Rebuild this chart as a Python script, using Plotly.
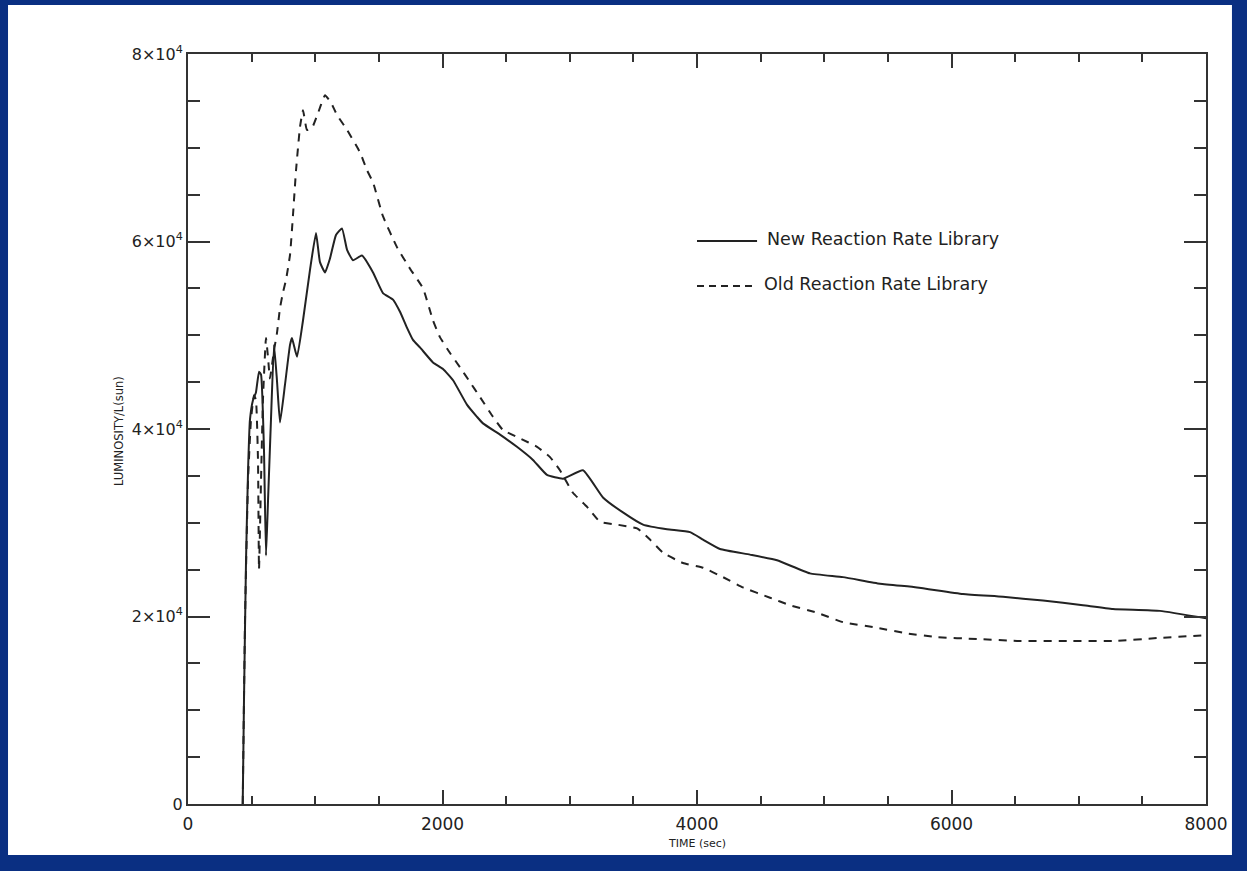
import plotly.graph_objects as go

# ---- data (time in s, luminosity in L_sun) ----
new_time = [430, 440, 456, 472, 487, 511, 534, 558, 574, 597, 613, 629, 652, 676, 699, 723,
            762, 802, 817, 857, 904, 959, 1006, 1037, 1077, 1116, 1163, 1210, 1250, 1297, 1367,
            1454, 1532, 1611, 1666, 1721, 1768, 1823, 1925, 2004, 2083, 2192, 2271, 2318, 2452,
            2585, 2711, 2821, 2947, 3104, 3261, 3418, 3576, 3764, 3945, 4047, 4181, 4416, 4629,
            4888, 5147, 5438, 5729, 6090, 6405, 6719, 7033, 7269, 7638, 8000]
new_lum = [0, 11100, 26000, 35600, 41000, 43100, 43900, 46100, 45800, 37800, 26500, 32400,
           41000, 49000, 45200, 40700, 44700, 49000, 49700, 47700, 51600, 57000, 60900, 57800,
           56700, 58200, 60700, 61400, 59100, 58000, 58500, 56700, 54500, 53800, 52500, 50800,
           49500, 48700, 47100, 46400, 45200, 42600, 41300, 40600, 39400, 38100, 36700, 35100,
           34700, 35600, 32700, 31100, 29800, 29300, 29000, 28200, 27200, 26600, 26000, 24600,
           24200, 23500, 23100, 22400, 22100, 21700, 21200, 20800, 20600, 19800]

old_time = [430, 448, 472, 495, 519, 534, 550, 558, 574, 589, 613, 629, 644, 676, 699, 723,
            747, 770, 802, 825, 849, 880, 904, 935, 974, 1022, 1077, 1124, 1171, 1250, 1352,
            1407, 1454, 1532, 1642, 1745, 1847, 1925, 1980, 2059, 2137, 2216, 2295, 2397, 2475,
            2609, 2743, 2845, 2923, 3025, 3136, 3238, 3371, 3529, 3631, 3733, 3890, 4047, 4204,
            4361, 4574, 4731, 4943, 5147, 5415, 5650, 5886, 6200, 6515, 6908, 7301, 7615, 8000]
old_lum = [0, 19600, 34600, 41000, 43600, 43100, 36700, 25000, 34600, 43100, 49700, 47600,
           45400, 48400, 50200, 52900, 54600, 55900, 58600, 62800, 67600, 72200, 74000, 71900,
           72100, 73700, 75600, 74800, 73500, 71900, 69500, 67600, 66300, 62700, 59400, 57100,
           55000, 51600, 49800, 48100, 46600, 45000, 43400, 41300, 39900, 39000, 38100, 37000,
           35600, 33200, 31700, 30100, 29800, 29400, 28200, 26800, 25700, 25200, 24200, 23100,
           22000, 21200, 20400, 19400, 18800, 18200, 17800, 17600, 17400, 17400, 17400, 17700,
           18000]

x_tickvals = [0, 2000, 4000, 6000, 8000]
x_ticktext = ["0", "2000", "4000", "6000", "8000"]
y_tickvals = [0, 20000, 40000, 60000, 80000]
y_ticktext = ["0", "2×10<sup>4</sup>", "4×10<sup>4</sup>", "6×10<sup>4</sup>", "8×10<sup>4</sup>"]

series_names = ["New Reaction Rate Library", "Old Reaction Rate Library"]

INK = "#222222"
AXC = "#333333"
FONT = "DejaVu Sans"
NAVY = "#0a2f82"

fig = go.Figure()
fig.add_trace(go.Scatter(x=new_time, y=new_lum, mode="lines", name=series_names[0],
                         line=dict(color=INK, width=2, shape="spline", smoothing=0.4)))
fig.add_trace(go.Scatter(x=old_time, y=old_lum, mode="lines", name=series_names[1],
                         line=dict(color=INK, width=2, dash="8px,7px", shape="spline", smoothing=0.4)))

axis_common = dict(showgrid=False, zeroline=False, showline=True, linecolor=AXC,
                   linewidth=2, mirror="ticks", ticks="inside", tickcolor=AXC,
                   tickwidth=1.5, tickfont=dict(family=FONT, size=16, color=INK))

fig.update_xaxes(range=[0, 8000], tickvals=x_tickvals, ticktext=x_ticktext, ticklen=14,
                 ticklabelstandoff=4,
                 minor=dict(dtick=500, tick0=0, ticks="inside", ticklen=8, tickcolor=AXC,
                            tickwidth=1.5),
                 **axis_common)
fig.update_xaxes(tickfont=dict(family=FONT, size=17, color=INK))
fig.update_yaxes(range=[0, 80000], tickvals=y_tickvals, ticktext=y_ticktext, ticklen=22,
                 minor=dict(dtick=5000, tick0=0, ticks="inside", ticklen=12, tickcolor=AXC,
                            tickwidth=1.5),
                 **axis_common)

# white page panel on navy slide background
fig.add_shape(type="rect", xref="paper", yref="paper", x0=-0.1768, x1=1.0255, y0=-0.068,
              y1=1.0653, fillcolor="white", line=dict(width=0), layer="below")

# legend samples
fig.add_shape(type="line", xref="paper", yref="paper", x0=0.50, x1=0.559, y0=0.7507, y1=0.7507,
              line=dict(color=INK, width=2))
fig.add_shape(type="line", xref="paper", yref="paper", x0=0.50, x1=0.554, y0=0.6907, y1=0.6907,
              line=dict(color=INK, width=2, dash="7px,5px"))
fig.add_annotation(xref="paper", yref="paper", x=0.567, y=0.7527, xanchor="left", yanchor="middle",
                   text=series_names[0], showarrow=False, font=dict(family=FONT, size=17.5, color=INK))
fig.add_annotation(xref="paper", yref="paper", x=0.564, y=0.6927, xanchor="left", yanchor="middle",
                   text=series_names[1], showarrow=False, font=dict(family=FONT, size=17.5, color=INK))

# axis titles
fig.add_annotation(xref="paper", yref="paper", x=0.5, y=-0.052, xanchor="center", yanchor="middle",
                   text="TIME (sec)", showarrow=False, font=dict(family=FONT, size=11, color=INK))
fig.add_annotation(xref="paper", yref="paper", x=-0.068, y=0.497, xanchor="center", yanchor="middle",
                   text="LUMINOSITY/L(sun)", textangle=-90, showarrow=False,
                   font=dict(family=FONT, size=11.5, color=INK))

fig.update_layout(width=1247, height=871, margin=dict(l=188, r=41, t=54, b=67),
                  paper_bgcolor=NAVY, plot_bgcolor="white", showlegend=False,
                  font=dict(family=FONT, color=INK))

fig.write_html("out.html", config={"displayModeBar": False},
               post_script="document.body.style.margin='0px';"
                           "document.body.style.background='%s';" % NAVY)
